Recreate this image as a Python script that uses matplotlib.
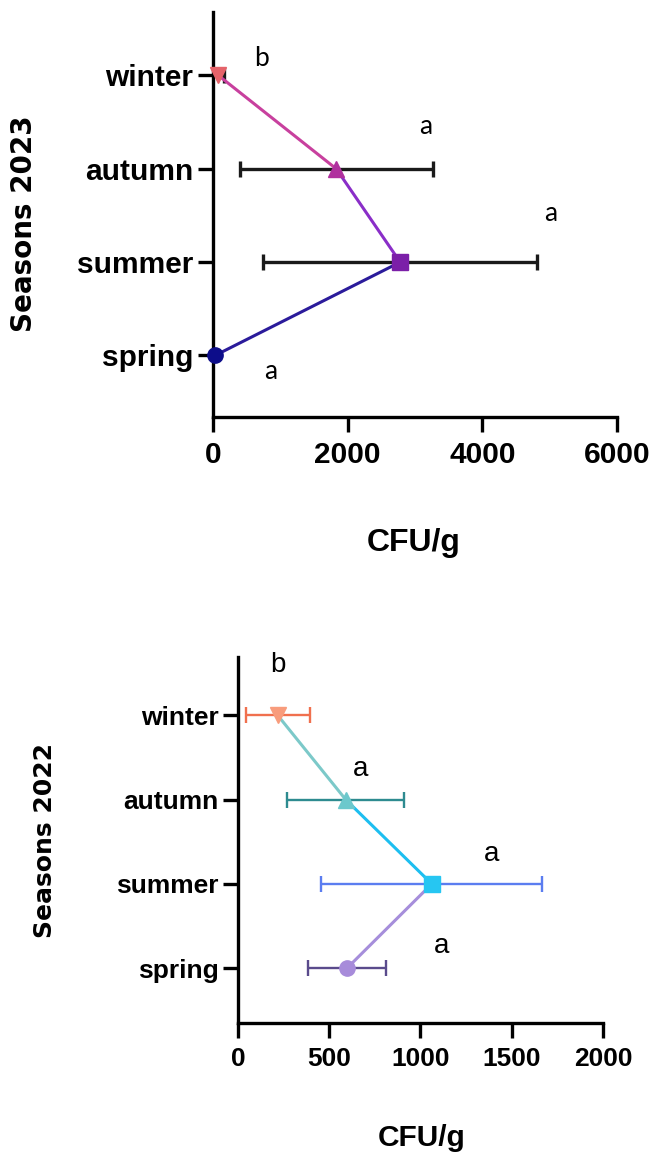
import matplotlib
matplotlib.use("Agg")
import matplotlib.pyplot as plt

seasons = ["spring", "summer", "autumn", "winter"]

# 2023 data (mean, SD)
mean_2023 = [31, 2780, 1830, 80]
sd_2023 = [0, 2036, 1435, 90]
letters_2023 = ["a", "a", "a", "b"]

# 2022 data (mean, SD)
mean_2022 = [597, 1062, 590, 217]
sd_2022 = [212, 605, 320, 175]
letters_2022 = ["a", "a", "a", "b"]

plt.rcParams['font.family'] = ['Liberation Sans', 'DejaVu Sans']

fig = plt.figure(figsize=(6.54, 11.53), dpi=100)

def style_axes(ax, xmax, xticks, ylim, fs, ypad, xpad):
    for s in ["top", "right"]:
        ax.spines[s].set_visible(False)
    for s in ["left", "bottom"]:
        ax.spines[s].set_linewidth(2.4)
        ax.spines[s].set_color("black")
    ax.set_xlim(0, xmax)
    ax.set_ylim(*ylim)
    ax.set_xticks(xticks)
    ax.set_yticks(range(len(seasons)))
    ax.set_yticklabels(seasons)
    ax.tick_params(axis="both", direction="out", length=11, width=2.4)
    ax.tick_params(axis="y", pad=ypad)
    ax.tick_params(axis="x", pad=xpad)
    for lab in ax.get_xticklabels() + ax.get_yticklabels():
        lab.set_fontweight("bold")
        lab.set_fontsize(fs)

ypos = list(range(len(seasons)))

# ---------- Top: 2023 ----------
ax1 = fig.add_axes([0.3257, 0.6383, 0.6177, 0.3513])
seg_colors_23 = ["#2B1B9B", "#8A2EC8", "#C8409E"]
for i in range(len(seasons) - 1):
    ax1.plot(mean_2023[i:i + 2], ypos[i:i + 2], color=seg_colors_23[i], lw=2.2, zorder=2)
for i in range(len(seasons)):
    if sd_2023[i] > 0:
        ax1.errorbar(mean_2023[i], ypos[i], xerr=sd_2023[i], fmt="none",
                     ecolor="#1a1a1a", elinewidth=2.4, capsize=6, capthick=2.4, zorder=1)
mk23 = [("o", "#0D0D8A", 11), ("s", "#7B1FA8", 11), ("^", "#B0309E", 11), ("v", "#E5636A", 11)]
for i, (m, c, s) in enumerate(mk23):
    ax1.plot(mean_2023[i], ypos[i], marker=m, color=c, markersize=s, zorder=3, clip_on=False)
style_axes(ax1, 6000, [0, 2000, 4000, 6000], (-0.66, 3.68), 21.5, 3, 6)
letter_pos_23 = [(856, -0.17), (5022, 1.52), (3162, 2.45), (713, 3.18)]
for (x, y), t in zip(letter_pos_23, letters_2023):
    ax1.text(x, y, t, fontsize=19, ha="center", va="center", family=["Lato", "DejaVu Sans"])
fig.text(414 / 654, 1 - 543 / 1153, "CFU/g", fontsize=23, fontweight="bold",
         ha="center", va="center")
fig.text(24 / 654, 1 - 224 / 1153, "Seasons 2023", fontsize=20, rotation=90,
         fontweight="bold", ha="center", va="center", family=["DejaVu Sans"])

# ---------- Bottom: 2022 ----------
ax2 = fig.add_axes([0.3639, 0.1127, 0.5581, 0.3175])
seg_colors_22 = ["#A68EDB", "#1DBEF0", "#7CC9C9"]
for i in range(len(seasons) - 1):
    ax2.plot(mean_2022[i:i + 2], ypos[i:i + 2], color=seg_colors_22[i], lw=2.2, zorder=2)
err_colors_22 = ["#5A4B8C", "#5B7DF0", "#2E8B90", "#F0704E"]
for i in range(len(seasons)):
    ax2.errorbar(mean_2022[i], ypos[i], xerr=sd_2022[i], fmt="none",
                 ecolor=err_colors_22[i], elinewidth=1.7, capsize=6, capthick=1.7, zorder=1)
mk22 = [("o", "#A78BDA", 11), ("s", "#26C6F2", 11), ("^", "#6CC8CC", 11), ("v", "#F89C7C", 11)]
for i, (m, c, s) in enumerate(mk22):
    ax2.plot(mean_2022[i], ypos[i], marker=m, color=c, markersize=s, zorder=3)
style_axes(ax2, 2000, [0, 500, 1000, 1500, 2000], (-0.65, 3.69), 19, 3, 6)
letter_pos_22 = [(1115, 0.26), (1391, 1.35), (673, 2.36), (217, 3.6)]
for (x, y), t in zip(letter_pos_22, letters_2022):
    ax2.text(x, y, t, fontsize=20, ha="center", va="center")
fig.text(422 / 654, 1 - 1138 / 1153, "CFU/g", fontsize=21.5, fontweight="bold",
         ha="center", va="center")
fig.text(45 / 654, 1 - 840 / 1153, "Seasons 2022", fontsize=18, rotation=90,
         fontweight="bold", ha="center", va="center", family=["DejaVu Sans"])

fig.savefig("out.png", dpi=100)
